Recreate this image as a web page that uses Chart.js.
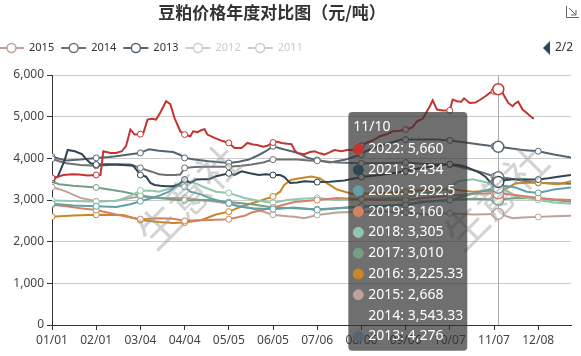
<!DOCTYPE html>
<html><head><meta charset="utf-8">
<script src="https://cdn.jsdelivr.net/npm/chart.js@4.4.1/dist/chart.umd.min.js"></script>
<style>html,body{margin:0;padding:0;background:#fff;overflow:hidden}#wrap{width:581px;height:356px}</style>
</head><body><div id="wrap"><canvas id="c" width="581" height="356"></canvas></div>
<script>
const chartTitle = '豆粕价格年度对比图（元/吨）';
const watermarkText = '生意社';
const tickLabels = ['01/01','02/01','03/04','04/04','05/05','06/05','07/06','08/06','09/06','10/07','11/07','12/08'];
const monthDays = [31,28,31,30,31,30,31,31,30,31,30,31];
const hoverDay = 313;
const seriesNames  = ['2022','2021','2020','2019','2018','2017','2016','2015','2014','2013','2012','2011'];
const seriesColors = ['#c23531','#2f4554','#61a0a8','#d48265','#91c7ae','#749f83','#ca8622','#bda29a','#6e7074','#546570','#c4ccd3','#c23531'];
const hiddenSeries = ['2012','2011'];
const legendPage = ['2015','2014','2013','2012','2011'];
const pagerText = '2/2';

// [day of year (0 = 01/01), price]
const s2022 = [[0,3530],[4,3560],[8,3600],[14,3620],[19,3610],[25,3590],[31,3600],[34,3600],[36,4170],[41,4130],[45,4130],[49,4170],[52,4300],[55,4690],[58,4570],[62,4580],[64,4600],[67,4930],[70,4950],[73,4930],[76,5100],[80,5370],[83,5300],[86,4960],[90,4650],[93,4570],[97,4530],[99,4650],[102,4630],[105,4680],[107,4700],[109,4570],[114,4490],[119,4420],[124,4370],[128,4250],[133,4250],[137,4370],[141,4330],[144,4320],[148,4280],[151,4300],[155,4380],[158,4400],[161,4370],[165,4350],[168,4340],[170,4200],[172,4130],[177,4100],[181,4150],[184,4170],[188,4120],[191,4090],[195,4150],[198,4200],[203,4170],[207,4200],[211,4200],[214,4250],[217,4300],[221,4380],[226,4450],[230,4530],[235,4580],[239,4650],[244,4660],[248,4690],[253,4750],[256,4890],[260,4950],[263,5130],[265,5250],[267,5390],[270,5170],[274,5150],[279,5150],[281,5410],[284,5370],[287,5360],[289,5440],[293,5330],[297,5340],[300,5400],[304,5490],[307,5570],[310,5610],[313,5660],[316,5570],[320,5330],[323,5250],[325,5320],[327,5360],[330,5170],[333,5090],[337,4970],[338,4950]];
const s2021 = [[0,3490],[4,3560],[7,3800],[9,3970],[11,4200],[16,4170],[21,4100],[24,3980],[27,3880],[31,3850],[40,3860],[50,3840],[57,3820],[60,3690],[62,3600],[66,3560],[69,3410],[72,3360],[76,3340],[80,3330],[85,3330],[89,3380],[93,3490],[97,3410],[101,3490],[105,3500],[110,3500],[115,3570],[119,3600],[124,3640],[128,3600],[133,3690],[138,3650],[145,3600],[150,3620],[155,3600],[160,3600],[163,3550],[167,3410],[172,3420],[177,3450],[186,3430],[195,3440],[205,3470],[217,3550],[230,3600],[240,3650],[248,3690],[256,3750],[265,3800],[272,3840],[279,3860],[285,3840],[290,3800],[295,3730],[300,3650],[304,3560],[307,3440],[310,3440],[313,3434],[318,3480],[324,3500],[330,3500],[335,3490],[341,3490],[348,3520],[355,3560],[364,3600]];
const s2020 = [[0,2910],[15,2870],[31,2850],[45,2830],[55,2900],[62,2970],[70,3050],[75,3100],[82,3200],[88,3350],[93,3320],[97,3200],[105,3130],[110,3050],[124,2920],[130,2850],[140,2800],[155,2780],[170,2820],[186,2760],[200,2800],[217,2850],[230,2860],[248,2880],[260,2950],[279,3000],[290,3100],[300,3200],[310,3280],[313,3292.5],[318,3340],[325,3300],[333,3200],[341,3170],[352,3250],[364,3300]];
const s2019 = [[0,2885],[10,2850],[20,2800],[31,2760],[45,2650],[55,2580],[62,2540],[75,2560],[85,2550],[93,2500],[110,2520],[124,2540],[135,2620],[140,2700],[155,2820],[170,2950],[186,3000],[200,3050],[217,3020],[230,3000],[248,3000],[260,3050],[279,3100],[295,3150],[310,3160],[313,3160],[325,3120],[341,3050],[352,3020],[364,3000]];
const s2018 = [[0,2990],[15,2975],[31,2960],[45,2980],[55,3100],[62,3230],[70,3220],[75,3200],[85,3300],[93,3380],[97,3440],[101,3400],[105,3330],[115,3200],[124,3170],[135,3050],[145,2980],[155,2930],[165,3000],[175,3030],[186,3050],[200,3000],[217,3020],[230,3040],[248,3060],[260,3150],[270,3230],[279,3300],[285,3450],[295,3500],[305,3420],[310,3330],[313,3305],[318,3250],[325,3100],[341,3000],[352,2940],[364,2910]];
const s2017 = [[0,3445],[5,3380],[15,3340],[31,3300],[40,3250],[50,3200],[62,3110],[75,3050],[85,3010],[93,2990],[110,3000],[124,2950],[140,2900],[155,2820],[170,2800],[186,2780],[200,2800],[217,2830],[230,2850],[248,2900],[260,2950],[279,3000],[295,3030],[305,3020],[310,3010],[313,3010],[325,3040],[341,3045],[352,3000],[364,2960]];
const s2016 = [[0,2600],[15,2630],[31,2645],[50,2640],[62,2520],[75,2470],[85,2450],[93,2460],[105,2520],[115,2650],[124,2720],[135,2870],[145,2970],[155,3085],[160,3200],[163,3365],[168,3485],[175,3530],[182,3565],[188,3520],[193,3400],[200,3250],[210,3150],[217,3150],[230,3160],[248,3200],[265,3250],[279,3260],[295,3200],[310,3225],[313,3225.33],[320,3300],[325,3400],[341,3420],[355,3380],[364,3450]];
const s2015 = [[0,3310],[5,3260],[10,3200],[20,3050],[31,2970],[45,2980],[55,3050],[62,3085],[75,3050],[93,3050],[110,2980],[124,2910],[140,2800],[150,2700],[155,2645],[165,2610],[170,2600],[177,2565],[186,2640],[200,2700],[217,2720],[230,2730],[248,2700],[260,2650],[279,2680],[295,2650],[305,2660],[310,2668],[313,2668],[318,2620],[323,2565],[330,2580],[341,2595],[352,2610],[364,2620]];
const s2014 = [[0,3990],[5,3930],[10,3880],[20,3840],[31,3820],[40,3840],[45,3860],[55,3850],[62,3770],[66,3720],[70,3680],[75,3620],[80,3600],[86,3600],[90,3610],[93,3770],[100,3790],[110,3800],[124,3800],[133,3820],[140,3850],[148,3900],[155,3970],[165,3970],[172,3970],[180,3950],[186,3940],[200,3900],[217,3880],[230,3880],[248,3900],[260,3870],[270,3860],[279,3850],[290,3760],[300,3680],[307,3600],[310,3570],[313,3543.33],[320,3520],[330,3460],[341,3410],[352,3400],[364,3390]];
const s2013 = [[0,4040],[5,3990],[10,3950],[20,3970],[31,4010],[40,4030],[45,4050],[55,4100],[62,4130],[68,4220],[75,4180],[85,4150],[90,4080],[93,4010],[100,3970],[110,3930],[124,3890],[131,3920],[138,3970],[145,4080],[150,4170],[155,4290],[163,4210],[170,4150],[175,4090],[180,4000],[186,3960],[195,3900],[206,3970],[213,4050],[217,4090],[220,4170],[230,4300],[237,4370],[245,4450],[248,4450],[260,4450],[270,4450],[279,4430],[290,4380],[300,4330],[307,4300],[310,4290],[313,4276],[320,4250],[330,4200],[341,4170],[352,4090],[364,4020]];
const s2012 = [];
const s2011 = [];
const seriesData = [s2022,s2021,s2020,s2019,s2018,s2017,s2016,s2015,s2014,s2013,s2012,s2011];

function dayLabel(d){
  let m = 0;
  while (m < 11 && d >= monthDays[m]) { d -= monthDays[m]; m++; }
  return String(m+1).padStart(2,'0') + '/' + String(d+1).padStart(2,'0');
}
const fmt = v => v.toLocaleString('en-US', {maximumFractionDigits: 2});
const markerEvery = 31;

Chart.Tooltip.positioners.leftOfPointer = function(elements){
  if (!elements.length) return false;
  const ca = this.chart.chartArea;
  return {x: elements[0].element.x - 35, y: ca.top + 37};
};

const crosshair = {
  id: 'crosshair',
  beforeDatasetsDraw(chart){
    const a = chart.getActiveElements();
    if (!a.length) return;
    const el = chart.getDatasetMeta(a[0].datasetIndex).data[a[0].index];
    const ca = chart.chartArea, ctx = chart.ctx;
    ctx.save();
    ctx.strokeStyle = '#aaa'; ctx.lineWidth = 1;
    ctx.beginPath(); ctx.moveTo(Math.round(el.x)+0.5, ca.top); ctx.lineTo(Math.round(el.x)+0.5, ca.bottom); ctx.stroke();
    ctx.restore();
  }
};

const watermark = {
  id: 'watermark',
  afterDatasetsDraw(chart){
    const ctx = chart.ctx, ca = chart.chartArea;
    ctx.save();
    ctx.font = '42px "Noto Sans CJK SC"';
    ctx.fillStyle = 'rgba(150,150,150,0.42)';
    ctx.textAlign = 'center'; ctx.textBaseline = 'middle';
    [[0.263, 0.485],[0.855, 0.49]].forEach(([fx, fy]) => {
      ctx.save();
      ctx.translate(ca.left + fx*(ca.right-ca.left), ca.top + fy*(ca.bottom-ca.top));
      ctx.rotate(-Math.PI/4);
      ctx.fillText(watermarkText, 0, 0);
      ctx.restore();
    });
    ctx.restore();
  }
};

const header = {
  id: 'header',
  afterDraw(chart){
    const ctx = chart.ctx;
    ctx.save();
    ctx.fillStyle = '#333';
    ctx.font = 'bold 17px "Noto Sans CJK SC"';
    ctx.textAlign = 'center'; ctx.textBaseline = 'middle';
    ctx.fillText(chartTitle, 272, 13);
    // legend (page 2)
    ctx.font = '11px "Noto Sans"';
    ctx.textAlign = 'left';
    let x = -1; const y = 48;
    legendPage.forEach(name => {
      const i = seriesNames.indexOf(name);
      const off = chart.data.datasets[i].hidden;
      const col = off ? '#ccc' : seriesColors[i];
      ctx.strokeStyle = col; ctx.lineWidth = 2;
      ctx.beginPath(); ctx.moveTo(x, y); ctx.lineTo(x+25, y); ctx.stroke();
      ctx.beginPath(); ctx.arc(x+12.5, y, 4.5, 0, Math.PI*2);
      ctx.fillStyle = '#fff'; ctx.fill(); ctx.lineWidth = 1.5; ctx.stroke();
      ctx.fillStyle = off ? '#ccc' : '#333';
      ctx.fillText(name, x+30, y);
      x += 30 + ctx.measureText(name).width + 7;
    });
    // pager
    ctx.fillStyle = '#2f4554';
    ctx.beginPath(); ctx.moveTo(543, 48); ctx.lineTo(550, 41); ctx.lineTo(550, 55); ctx.closePath(); ctx.fill();
    ctx.fillStyle = '#333'; ctx.font = '12px "Noto Sans"';
    ctx.fillText(pagerText, 555, 48);
    // save-as-image icon
    ctx.strokeStyle = '#666'; ctx.lineWidth = 1;
    ctx.beginPath();
    ctx.moveTo(566.5, 6); ctx.lineTo(566.5, 17.5); ctx.lineTo(579, 17.5);
    ctx.moveTo(569, 8); ctx.lineTo(576, 15); ctx.moveTo(576, 10); ctx.lineTo(576, 15); ctx.lineTo(571, 15);
    ctx.stroke();
    ctx.restore();
  }
};

const datasets = seriesNames.map((name, i) => ({
  label: name,
  data: seriesData[i].map(([d, v]) => ({x: d, y: v})),
  hidden: hiddenSeries.includes(name),
  borderColor: seriesColors[i],
  backgroundColor: seriesColors[i],
  borderWidth: 2,
  tension: 0,
  pointRadius: ctx => (ctx.raw && ctx.raw.x % markerEvery === 0) ? 3 : 0,
  pointBackgroundColor: '#fff',
  pointBorderColor: seriesColors[i],
  pointBorderWidth: 1,
  pointHoverRadius: 5.5,
  pointHoverBackgroundColor: '#fff',
  pointHoverBorderColor: seriesColors[i],
  pointHoverBorderWidth: 1.5,
  fill: false
}));

const chart = new Chart(document.getElementById('c'), {
  type: 'line',
  data: {datasets},
  plugins: [crosshair, watermark, header],
  options: {
    responsive: false,
    animation: false,
    devicePixelRatio: 1,
    events: [],
    layout: {padding: {top: 75, left: 5, right: 10, bottom: 5}},
    scales: {
      x: {
        type: 'linear', min: 0, max: 364,
        afterBuildTicks: s => { s.ticks = tickLabels.map((_, i) => ({value: i*markerEvery})); },
        afterFit: s => { s.height = 26; },
        ticks: {
          autoSkip: false, maxRotation: 0, padding: 3,
          color: '#444', font: {family: 'Noto Sans', size: 12},
          callback: (v, i) => tickLabels[i]
        },
        grid: {drawOnChartArea: false, drawTicks: true, tickLength: 5, tickColor: '#333'},
        border: {color: '#333', width: 1}
      },
      y: {
        min: 0, max: 6000,
        afterFit: s => { s.width = 47; },
        ticks: {stepSize: 1000, padding: 3, color: '#444', font: {family: 'Noto Sans', size: 12}},
        grid: {color: '#ccc', tickLength: 5, tickColor: '#333'},
        border: {color: '#333', width: 1}
      }
    },
    plugins: {
      legend: {display: false},
      title: {display: false},
      tooltip: {
        enabled: true,
        animation: false,
        position: 'leftOfPointer',
        xAlign: 'right', yAlign: 'top',
        backgroundColor: 'rgba(50,50,50,0.7)',
        titleColor: '#fff', bodyColor: '#fff',
        titleFont: {family: 'Noto Sans', size: 14, weight: 'normal'},
        bodyFont: {family: 'Noto Sans', size: 14},
        titleMarginBottom: 5,
        bodySpacing: 4,
        padding: {top: 7, bottom: 6, left: 5, right: 4},
        caretSize: 0, caretPadding: 0, cornerRadius: 4,
        displayColors: true, usePointStyle: true,
        multiKeyBackground: 'rgba(0,0,0,0)',
        boxWidth: 10, boxHeight: 10, boxPadding: 3,
        callbacks: {
          title: items => dayLabel(items[0].raw.x),
          label: ctx => ctx.dataset.label + ': ' + fmt(ctx.raw.y),
          labelColor: ctx => ({borderColor: seriesColors[ctx.datasetIndex], backgroundColor: seriesColors[ctx.datasetIndex], borderWidth: 0}),
          labelPointStyle: () => ({pointStyle: 'circle', rotation: 0})
        }
      }
    }
  }
});

const actives = [];
chart.data.datasets.forEach((ds, di) => {
  if (ds.hidden) return;
  const idx = ds.data.findIndex(p => p.x === hoverDay);
  if (idx >= 0) actives.push({datasetIndex: di, index: idx});
});
chart.setActiveElements(actives);
const el0 = chart.getDatasetMeta(0).data[actives[0].index];
chart.tooltip.setActiveElements(actives, {x: el0.x, y: el0.y});
chart.update();
</script></body></html>
